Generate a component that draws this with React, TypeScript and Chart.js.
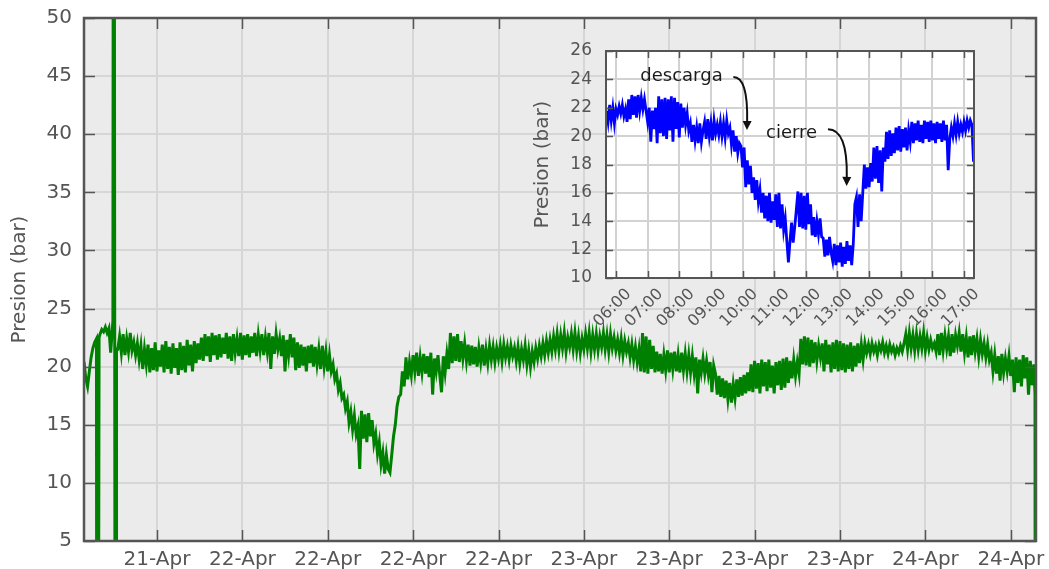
import React, { useEffect, useRef } from "react";
import { Chart, registerables } from "chart.js";

Chart.register(...registerables);

const FONT = "'DejaVu Sans', sans-serif";
const TEXT_GREY = "#555555";

// ---------- main chart data ----------
// hours counted from 21-Apr 00:00, one reading every 7.5 minutes
const mainStartHour = 12.87;
const mainStepHours = 0.125;
const mainPressure = [
  20.4, 19.0, 18.3, 19.6, 20.8, 21.6, 22.1, 22.4,
  -20,
  22.8, 23.2, 23.0, 23.4, 22.9, 23.3, 21.2, 23.4,
  70, -20,
  21.5, 22.6, 21.2, 22.8, 21.0, 22.4, 21.3, 22.9, 21.4, 22.1,
  21.0, 22.0, 20.6, 21.8, 19.8, 21.5, 20.2, 21.9, 19.5, 21.6,
  19.7, 22.1, 19.6, 21.4, 20.0, 21.9, 19.5, 22.2, 19.8, 21.7,
  19.4, 22.0, 19.9, 21.6, 19.3, 22.1, 19.7, 21.8, 19.5, 22.3,
  20.1, 21.9, 19.6, 22.2, 20.3, 22.0, 20.6,
  22.5, 20.5, 22.8, 20.9, 22.6, 20.4, 22.9, 21.0, 22.7, 20.6,
  22.8, 20.8, 22.5, 21.1, 22.9, 20.7, 22.6, 20.5, 22.8, 21.2,
  22.4, 20.9, 22.9, 20.6, 22.7, 21.0, 22.8, 20.8,
  22.6, 21.2, 22.9, 20.9, 22.7, 21.4, 22.8, 21.0, 22.5, 21.3,
  22.9, 19.8, 22.6, 21.1, 22.8, 21.5, 22.4, 20.9, 22.7, 19.6,
  22.3, 21.0, 22.8, 20.8, 22.5, 19.7, 22.1, 19.9, 21.9, 20.1,
  21.7, 19.6, 21.8, 20.3,
  21.9, 20.0, 21.7, 20.2, 21.5, 19.8, 21.8, 20.0, 21.3, 19.6, 21.0,
  19.6, 20.2, 18.9, 19.4, 18.0, 18.6, 17.3, 17.6,
  16.4, 17.0, 15.2, 16.1, 14.6, 15.8, 14.2, 14.9, 11.2,
  16.2, 13.8, 15.9, 13.5, 16.0, 14.0, 15.4, 13.4,
  14.2, 12.5, 13.5, 11.6, 12.6, 10.8, 12.4, 11.2, 10.9,
  12.4, 14.0, 15.0, 16.6, 17.4,
  17.6, 19.6, 18.3, 20.8, 18.9, 20.4,
  19.3, 21.0, 19.6, 21.2, 19.2, 20.8, 19.5, 21.1, 19.4, 20.9,
  19.1, 21.2, 17.6, 20.7, 19.6, 21.0, 19.3, 17.8, 20.9, 19.5,
  21.1, 19.8,
  22.9, 20.3, 22.6, 20.5, 22.8, 20.4, 22.2, 20.7, 22.0, 20.5, 21.9,
  20.1, 21.8, 20.2, 21.7, 20.0, 21.6, 20.4, 21.9, 20.1, 21.5,
  20.3, 21.8, 20.6, 21.7, 20.4, 21.6, 20.7, 21.8, 20.5, 21.9,
  20.8, 21.7, 20.6, 21.8, 20.9, 21.6, 20.5, 21.7, 20.3, 21.5,
  20.6, 21.8, 20.2, 21.4, 20.0, 21.3, 20.4, 21.6, 20.7, 21.8,
  20.9, 22.0, 21.0, 22.2, 21.2,
  22.3, 21.3, 22.6, 21.5, 22.8, 21.4, 22.7, 21.6, 22.9, 21.3,
  22.5, 21.7, 22.8, 21.5, 22.9, 21.4, 22.6, 21.2, 22.4, 21.5,
  22.8, 21.6, 22.9, 21.3, 22.7, 21.5, 22.8, 21.4, 22.6, 21.7,
  22.9, 21.5, 22.7, 21.3, 22.8, 21.6, 22.5, 21.4, 22.3, 21.2,
  22.4, 21.0, 22.2, 21.3, 22.0, 20.8, 21.9, 20.6, 21.7, 20.4,
  21.5,
  19.6, 22.9, 19.5, 22.6, 19.4, 22.3, 19.8, 21.8,
  19.5, 21.3, 19.6, 21.1, 19.4, 21.0, 19.7, 21.4, 19.5, 21.2,
  19.8, 21.3, 19.6, 21.0, 19.5, 21.2, 19.7, 21.1, 19.6, 21.0,
  19.5, 20.9, 19.4, 20.8, 17.7, 20.6, 19.5, 20.7, 19.4, 20.5, 19.3, 20.4, 17.8, 20.1,
  19.4, 17.6, 19.2, 17.4, 19.0, 17.3, 18.8, 17.2, 18.6, 16.9,
  18.5, 17.3, 18.9, 17.4, 19.1, 17.5, 19.3, 17.7, 19.5, 17.9,
  20.2, 17.8, 20.5, 18.1, 20.3, 17.7, 20.6, 18.3, 20.4, 17.9,
  20.6, 18.2, 20.1, 17.7, 20.4, 18.4, 20.5, 18.0, 20.7, 18.2,
  20.8, 18.6, 20.5, 19.0, 20.6, 19.2, 20.4, 19.4,
  22.4, 20.2, 22.6, 20.1, 22.5, 20.0, 22.3, 20.3, 22.1, 20.5, 21.8,
  20.8, 22.0, 19.6, 22.3, 20.2, 21.9, 19.5, 22.1, 19.8, 22.3,
  19.6, 22.2, 19.7, 22.0, 19.5, 21.9, 19.8, 22.1, 19.6, 21.8,
  20.0, 22.0, 20.3, 21.9, 20.6,
  22.0, 21.2, 21.9, 21.1, 22.0, 21.3, 21.8, 21.0, 21.9, 21.4,
  22.1, 21.2, 21.8, 21.1, 21.9, 21.3, 21.7, 21.0, 21.6, 21.2,
  21.8, 21.3, 22.0,
  22.8, 21.5, 22.9, 21.6, 22.7, 21.4, 22.8, 21.5, 22.6, 21.6, 22.9, 21.4, 22.5, 21.5, 22.3, 21.6, 22.0,
  21.3, 22.8, 21.0, 22.9, 21.4, 22.7, 21.5, 22.6, 20.9, 22.8,
  21.2, 22.7, 21.8, 22.9, 21.3, 22.8, 21.2, 22.5, 20.8, 22.6,
  21.0, 22.7, 21.3, 22.4, 20.9, 22.3, 21.1, 22.0, 20.8, 21.9,
  20.6,
  21.2, 19.6, 21.0, 19.4, 20.9, 18.8, 21.1, 19.5, 20.7, 19.6,
  20.9, 19.2, 20.6, 17.8, 20.8, 18.6, 20.6, 18.3, 21.0, 19.0,
  20.8, 17.6, 20.5, 18.4, 20.2,
];
// sensor drop-outs / spikes: hour and pressure
const mainSpikeHours = [13.76, 13.78, 13.9, 13.93, 14.9, 14.93, 15.06, 15.14, 15.17, 79.7, 79.72];
const mainSpikeValues = [22.3, -20, -20, 22.5, 23.3, 70, -20, -20, 21.5, 17.6, -20];

const mainXMin = 12.87;
const mainXMax = 79.77;
const mainTickHours = [18, 24, 30, 36, 42, 48, 54, 60, 66, 72, 78];
const mainTickLabels = ["21-Apr", "22-Apr", "22-Apr", "22-Apr", "22-Apr", "23-Apr", "23-Apr", "23-Apr", "23-Apr", "24-Apr", "24-Apr"];
const mainYTicks = [5, 10, 15, 20, 25, 30, 35, 40, 45, 50];

// ---------- inset data (one reading every 3 minutes) ----------
const insetStartHour = 5.7;
const insetStepHours = 0.05;
const insetPressure = [
  21.8, 21.0, 22.2, 21.1, 22.0, 20.9,
  21.9, 21.5, 22.1, 21.6, 22.2, 21.4,
  21.9, 21.0, 22.6, 21.2, 22.9, 21.5, 22.8, 21.3, 22.9, 21.8,
  22.7, 21.9, 22.6, 21.8,
  21.0, 22.0, 19.6, 21.8, 20.5,
  22.0, 19.5, 22.8, 20.2,
  22.6, 20.0, 22.7, 19.8, 22.6, 20.4, 22.8, 19.6, 22.7, 20.5, 22.4,
  19.9, 22.3, 20.6, 22.0, 20.8, 21.6, 20.4,
  20.9, 19.6, 20.8, 19.7, 20.6, 19.5, 20.9, 19.6, 20.4,
  21.0, 19.8, 21.2, 20.0, 20.9, 19.7, 21.1, 20.2,
  20.8, 20.1, 21.0, 20.0, 20.9, 19.9, 21.1, 20.2,
  20.6, 19.4, 20.4, 18.9, 20.0, 18.8, 19.5,
  19.3, 17.8, 19.2, 16.4, 18.3, 16.6,
  17.9, 16.0, 17.1, 15.5, 16.9, 15.4, 16.2,
  14.6, 16.0, 14.2, 15.8, 14.0, 16.0, 13.9, 15.4, 14.1, 15.9,
  13.6, 16.0, 13.5, 15.2, 13.4, 14.2, 12.6,
  11.1,
  12.6, 13.9, 12.5, 13.6, 14.8,
  16.1, 13.6, 16.0, 13.5, 15.8, 13.4, 16.0, 13.8,
  15.2, 13.0, 14.3, 12.9, 14.0, 13.1, 14.2,
  12.9, 12.8, 11.5, 12.7, 11.6, 12.9,
  11.8, 11.2, 12.4, 10.9, 12.3, 11.1, 12.5, 10.8, 12.2, 11.0, 12.6, 11.2, 12.3,
  10.9, 12.4, 15.2,
  15.7, 13.6, 15.9,
  14.0, 16.0, 18.0, 16.3,
  17.8, 16.4, 18.1, 16.8, 19.2, 17.0, 19.3, 16.7, 19.0, 16.1, 19.2,
  18.2, 20.3, 18.4, 20.4, 18.6, 20.2, 18.8, 20.6,
  19.0, 20.7, 18.9, 20.5, 19.2, 20.6, 19.0, 20.4,
  19.6, 21.0, 19.5, 20.9, 19.7, 21.1, 19.6, 20.8, 19.5, 21.1, 19.8, 21.0,
  19.6, 21.1, 19.7, 20.9, 19.5, 21.0, 19.8, 20.9, 19.6, 21.1, 19.7, 20.8,
  17.6,
  19.8, 20.6, 20.0, 20.9, 20.1, 21.0, 20.2, 20.8, 20.3, 21.0, 20.4, 21.1, 20.6, 21.1, 20.8,
  18.2,
];
const insetXMin = 5.684;
const insetXMax = 17.316;
const insetTickHours = [6, 7, 8, 9, 10, 11, 12, 13, 14, 15, 16, 17];
const insetTickLabels = ["06:00", "07:00", "08:00", "09:00", "10:00", "11:00", "12:00", "13:00", "14:00", "15:00", "16:00", "17:00"];
const insetYTicks = [10, 12, 14, 16, 18, 20, 22, 24, 26];

// annotations: text anchor (center, baseline), arrow start, arrow tip (data coords)
const annotationTexts = ["descarga", "cierre"];
const annotationTextAt = [[8.07, 23.92], [11.55, 19.85]];
const annotationFrom = [[9.71, 24.17], [12.7, 20.49]];
const annotationTo = [[10.14, 20.43], [13.29, 16.49]];

function framePlugin(id: string, tickLen: number, frameColor: string, frameWidth: number) {
  return {
    id,
    afterDatasetsDraw(chart: any) {
      const { ctx, chartArea: a, scales } = chart;
      ctx.save();
      ctx.strokeStyle = frameColor;
      ctx.lineWidth = 1.5;
      ctx.beginPath();
      for (const t of scales.x.ticks) {
        const px = Math.round(scales.x.getPixelForValue(t.value)) + 0.5;
        ctx.moveTo(px, a.bottom);
        ctx.lineTo(px, a.bottom - tickLen);
        ctx.moveTo(px, a.top);
        ctx.lineTo(px, a.top + tickLen);
      }
      for (const t of scales.y.ticks) {
        const py = Math.round(scales.y.getPixelForValue(t.value)) + 0.5;
        ctx.moveTo(a.left, py);
        ctx.lineTo(a.left + tickLen, py);
        ctx.moveTo(a.right, py);
        ctx.lineTo(a.right - tickLen, py);
      }
      ctx.stroke();
      ctx.lineWidth = frameWidth;
      ctx.strokeRect(a.left, a.top, a.right - a.left, a.bottom - a.top);
      ctx.restore();
    },
  };
}

function bgPlugin(id: string, color: string) {
  return {
    id,
    beforeDraw(chart: any) {
      const { ctx, chartArea: a } = chart;
      ctx.save();
      ctx.fillStyle = color;
      ctx.fillRect(a.left, a.top, a.right - a.left, a.bottom - a.top);
      ctx.restore();
    },
  };
}

const insetLabelsPlugin = {
  id: "insetLabels",
  afterDraw(chart: any) {
    const { ctx, chartArea: a, scales } = chart;
    ctx.save();
    ctx.font = `16px ${FONT}`;
    ctx.fillStyle = TEXT_GREY;
    ctx.textAlign = "center";
    ctx.textBaseline = "middle";
    insetTickHours.forEach((h, i) => {
      const px = scales.x.getPixelForValue(h);
      ctx.save();
      ctx.translate(px - 3.5, a.bottom + 30);
      ctx.rotate(-Math.PI / 4);
      ctx.fillText(insetTickLabels[i], 0, 0);
      ctx.restore();
    });
    ctx.restore();
  },
};

const annotationPlugin = {
  id: "annotations",
  afterDatasetsDraw(chart: any) {
    const { ctx, scales } = chart;
    const X = (v: number) => scales.x.getPixelForValue(v);
    const Y = (v: number) => scales.y.getPixelForValue(v);
    ctx.save();
    ctx.font = `18px ${FONT}`;
    ctx.textAlign = "center";
    ctx.textBaseline = "alphabetic";
    annotationTexts.forEach((txt, i) => {
      ctx.fillStyle = "#1a1a1a";
      ctx.fillText(txt, X(annotationTextAt[i][0]), Y(annotationTextAt[i][1]));
      const x0 = X(annotationFrom[i][0]);
      const y0 = Y(annotationFrom[i][1]);
      const x1 = X(annotationTo[i][0]);
      const y1 = Y(annotationTo[i][1]);
      const head = 9;
      const cx = x1 + 1;
      const cy = y0;
      const dx = x1 - cx;
      const dy = y1 - cy;
      const len = Math.hypot(dx, dy) || 1;
      const ux = dx / len;
      const uy = dy / len;
      const bx = x1 - ux * head;
      const by = y1 - uy * head;
      ctx.strokeStyle = "#111";
      ctx.lineWidth = 2;
      ctx.beginPath();
      ctx.moveTo(x0, y0);
      ctx.quadraticCurveTo(cx, cy, bx, by);
      ctx.stroke();
      ctx.fillStyle = "#111";
      ctx.beginPath();
      ctx.moveTo(x1, y1);
      ctx.lineTo(bx - uy * 4.5, by + ux * 4.5);
      ctx.lineTo(bx + uy * 4.5, by - ux * 4.5);
      ctx.closePath();
      ctx.fill();
    });
    ctx.restore();
  },
};

function fixYWidth(width: number) {
  return (s: any) => {
    s.width = width;
    s.paddingTop = 0;
    s.paddingBottom = 0;
  };
}

function fixXHeight(height: number) {
  return (s: any) => {
    s.height = height;
    s.paddingLeft = 0;
    s.paddingRight = 0;
  };
}

export default function App() {
  const mainRef = useRef<HTMLCanvasElement | null>(null);
  const insetRef = useRef<HTMLCanvasElement | null>(null);

  useEffect(() => {
    if (!mainRef.current || !insetRef.current) return;

    const mainPoints = [
      ...mainPressure.map((v, i) => ({ x: mainStartHour + i * mainStepHours, y: v })),
      ...mainSpikeHours.map((h, i) => ({ x: h, y: mainSpikeValues[i] })),
    ].sort((p, q) => p.x - q.x);

    const insetPoints = insetPressure.map((v, i) => ({ x: insetStartHour + i * insetStepHours, y: v }));

    const main = new Chart(mainRef.current, {
      type: "line",
      data: {
        datasets: [
          {
            data: mainPoints,
            borderColor: "#008000",
            borderWidth: 3,
            pointRadius: 0,
            tension: 0,
            fill: false,
          },
        ],
      },
      options: {
        animation: false,
        responsive: false,
        maintainAspectRatio: false,
        layout: { padding: { left: 0, top: 18, right: 13, bottom: 0 } },
        plugins: { legend: { display: false }, tooltip: { enabled: false } },
        scales: {
          x: {
            type: "linear",
            min: mainXMin,
            max: mainXMax,
            afterBuildTicks: (s: any) => {
              s.ticks = mainTickHours.map((value) => ({ value }));
            },
            afterFit: fixXHeight(28),
            ticks: {
              autoSkip: false,
              maxRotation: 0,
              minRotation: 0,
              padding: 7,
              color: TEXT_GREY,
              font: { family: FONT, size: 20 },
              callback: (_v: any, i: number) => mainTickLabels[i],
            },
            grid: { color: "#d6d6d6", lineWidth: 2, drawTicks: false },
            border: { display: false },
          },
          y: {
            type: "linear",
            min: 5,
            max: 50,
            afterBuildTicks: (s: any) => {
              s.ticks = mainYTicks.map((value) => ({ value }));
            },
            afterFit: fixYWidth(84),
            ticks: {
              padding: 12,
              color: TEXT_GREY,
              font: { family: FONT, size: 20 },
              callback: (v: any) => String(v),
            },
            grid: { color: "#d6d6d6", lineWidth: 2, drawTicks: false },
            border: { display: false },
            title: {
              display: true,
              text: "Presion (bar)",
              color: TEXT_GREY,
              font: { family: FONT, size: 20 },
              padding: { top: 8, bottom: 0 },
            },
          },
        },
      },
      plugins: [bgPlugin("mainBg", "#ebebeb"), framePlugin("mainFrame", 11, "#555555", 2.5)],
    } as any);

    const inset = new Chart(insetRef.current, {
      type: "line",
      data: {
        datasets: [
          {
            data: insetPoints,
            borderColor: "#0000ff",
            borderWidth: 2.8,
            pointRadius: 0,
            tension: 0,
            fill: false,
          },
        ],
      },
      options: {
        animation: false,
        responsive: false,
        maintainAspectRatio: false,
        layout: { padding: { left: 0, top: 21, right: 16, bottom: 0 } },
        plugins: { legend: { display: false }, tooltip: { enabled: false } },
        scales: {
          x: {
            type: "linear",
            min: insetXMin,
            max: insetXMax,
            afterBuildTicks: (s: any) => {
              s.ticks = insetTickHours.map((value) => ({ value }));
            },
            afterFit: fixXHeight(72),
            ticks: { display: false },
            grid: { color: "#d2d2d2", lineWidth: 2, drawTicks: false },
            border: { display: false },
          },
          y: {
            type: "linear",
            min: 10,
            max: 26,
            afterBuildTicks: (s: any) => {
              s.ticks = insetYTicks.map((value) => ({ value }));
            },
            afterFit: fixYWidth(86),
            ticks: {
              padding: 14,
              color: TEXT_GREY,
              font: { family: FONT, size: 17 },
              callback: (v: any) => String(v),
            },
            grid: { color: "#d2d2d2", lineWidth: 2, drawTicks: false },
            border: { display: false },
            title: {
              display: true,
              text: "Presion (bar)",
              color: TEXT_GREY,
              font: { family: FONT, size: 20 },
              padding: { top: 11, bottom: 0 },
            },
          },
        },
      },
      plugins: [bgPlugin("insetBg", "#ffffff"), framePlugin("insetFrame", 7, "#555555", 2), insetLabelsPlugin, annotationPlugin],
    } as any);

    return () => {
      main.destroy();
      inset.destroy();
    };
  }, []);

  return (
    <div
      style={{
        position: "fixed",
        left: 0,
        top: 0,
        width: 1049,
        height: 569,
        background: "#ffffff",
        overflow: "hidden",
      }}
    >
      <canvas
        ref={mainRef}
        width={1049}
        height={569}
        style={{ position: "absolute", left: 0, top: 0, width: 1049, height: 569 }}
      />
      <canvas
        ref={insetRef}
        width={470}
        height={320}
        style={{ position: "absolute", left: 520, top: 30, width: 470, height: 320 }}
      />
    </div>
  );
}
